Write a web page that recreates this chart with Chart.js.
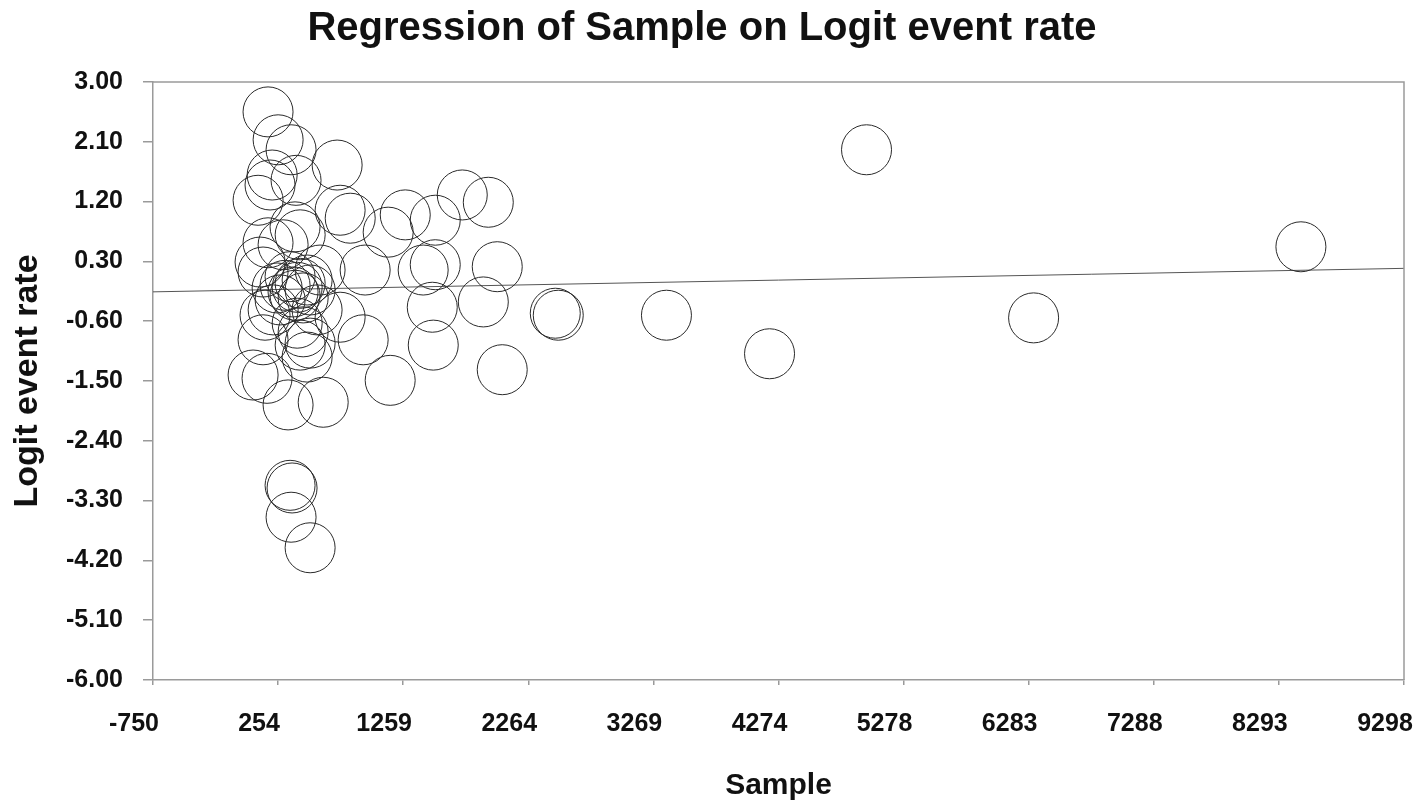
<!DOCTYPE html>
<html>
<head>
<meta charset="utf-8">
<title>Regression of Sample on Logit event rate</title>
<script src="https://cdn.jsdelivr.net/npm/chart.js@4/dist/chart.umd.min.js"></script>
<style>
  html, body { margin: 0; padding: 0; background: #ffffff; }
  #wrap { width: 1418px; height: 807px; position: relative; }
</style>
</head>
<body>
<div id="wrap"><canvas id="regressionChart"></canvas></div>
<script>
// Study sample sizes (x) and logit event rates (y)
var sampleSizes = [
  174, 255, 359, 729, 207, 190, 399, 94, 753, 834,
  1276, 1517, 1734, 1943, 1139, 391, 174, 432, 295, 134,
  351, 408, 432, 488, 375, 311, 110, 592, 954, 1420,
  1517, 2015, 247, 456, 134, 215, 408, 568, 753, 512,
  488, 938, 54, 166, 335, 617, 1155, 1493, 1903, 2481,
  2505, 1501, 2055, 351, 367, 359, 512, 3374, 4202, 4981,
  6323, 8470, 456, 150, 432, 391, 271, 512
];
var logitRates = [
  2.55, 2.13, 1.98, 1.75, 1.60, 1.45, 1.52, 1.22, 1.07, 0.95,
  1.00, 0.92, 1.30, 1.19, 0.74, 0.82, 0.58, 0.70, 0.55, 0.14,
  0.07, -0.09, -0.03, 0.02, -0.16, -0.06, 0.29, 0.17, 0.17, 0.17,
  0.25, 0.22, -0.10, -0.25, -0.88, -0.43, -0.63, -0.43, -0.54, -0.93,
  -1.14, -0.88, -1.41, -1.46, -1.86, -1.82, -1.49, -0.39, -0.31, -0.48,
  -0.51, -0.96, -1.33, -3.07, -3.11, -3.55, -4.01, -0.51, -1.09, 1.98,
  -0.55, 0.52, -0.76, -0.51, -0.96, -0.21, -0.28, -0.13
];

// Fitted regression line
var regIntercept = -0.132;
var regSlope = 0.0000352;

// Axis tick labels
var xTicks = [-750, 254, 1259, 2264, 3269, 4274, 5278, 6283, 7288, 8293, 9298];
var yTicks = [3.00, 2.10, 1.20, 0.30, -0.60, -1.50, -2.40, -3.30, -4.20, -5.10, -6.00];

var xMin = xTicks[0];
var xMax = xTicks[xTicks.length - 1];

var points = sampleSizes.map(function (s, i) {
  return { x: s, y: logitRates[i] };
});

var regLine = [
  { x: xMin, y: regIntercept + regSlope * xMin },
  { x: xMax, y: regIntercept + regSlope * xMax }
];

var axisGray = '#9a9a9a';
var tickFont = { family: 'Liberation Sans, Arial, sans-serif', size: 25, weight: 'bold' };

// no extra side padding from the edge labels
function noSidePadding(scale) {
  scale.paddingLeft = 0;
  scale.paddingRight = 0;
}

// draws the top and right edges of the plot box
var frameBox = {
  id: 'frameBox',
  afterDraw: function (chart) {
    var a = chart.chartArea;
    var c = chart.ctx;
    c.save();
    c.strokeStyle = axisGray;
    c.lineWidth = 1.5;
    c.beginPath();
    c.moveTo(a.left, a.top);
    c.lineTo(a.right, a.top);
    c.lineTo(a.right, a.bottom);
    c.stroke();
    c.restore();
  }
};

var ctx = document.getElementById('regressionChart').getContext('2d');
var chart = new Chart(ctx, {
  type: 'scatter',
  data: {
    datasets: [
      {
        label: 'Studies',
        data: points,
        pointRadius: 25,
        pointHoverRadius: 25,
        pointBorderWidth: 1,
        pointBorderColor: '#2a2a2a',
        pointBackgroundColor: 'rgba(0, 0, 0, 0)'
      },
      {
        label: 'Regression',
        type: 'line',
        data: regLine,
        borderColor: '#555555',
        borderWidth: 1,
        pointRadius: 0,
        fill: false
      }
    ]
  },
  options: {
    responsive: true,
    maintainAspectRatio: false,
    animation: false,
    layout: {
      autoPadding: false, // big markers would otherwise push the right edge in
      padding: { left: 0, right: 14, top: 0, bottom: 0 }
    },
    plugins: {
      legend: { display: false },
      tooltip: { enabled: false },
      title: {
        display: true,
        text: 'Regression of Sample on Logit event rate',
        color: '#111111',
        font: { family: 'Liberation Sans, Arial, sans-serif', size: 40, weight: 'bold' },
        padding: { top: 5, bottom: 29 }
      }
    },
    scales: {
      x: {
        type: 'linear',
        min: xMin,
        max: xMax,
        afterBuildTicks: function (scale) {
          scale.ticks = xTicks.map(function (v) { return { value: v }; });
        },
        afterFit: function (scale) {
          scale.height = 127;
          noSidePadding(scale);
        },
        ticks: {
          autoSkip: false,
          maxRotation: 0,
          padding: 24,
          labelOffset: -19,
          color: '#111111',
          font: tickFont,
          callback: function (value) {
            return String(value);
          }
        },
        grid: {
          drawOnChartArea: false,
          drawTicks: true,
          tickLength: 5,
          color: axisGray,
          lineWidth: 1.5
        },
        border: { display: true, color: axisGray, width: 1.5 },
        title: {
          display: true,
          text: 'Sample',
          color: '#111111',
          font: { family: 'Liberation Sans, Arial, sans-serif', size: 30, weight: 'bold' },
          padding: { top: 0, bottom: 3 }
        }
      },
      y: {
        type: 'linear',
        min: yTicks[yTicks.length - 1],
        max: yTicks[0],
        afterBuildTicks: function (scale) {
          scale.ticks = yTicks.map(function (v) { return { value: v }; });
        },
        afterFit: function (scale) {
          scale.width = 153;
        },
        ticks: {
          autoSkip: false,
          padding: 20,
          color: '#111111',
          font: tickFont,
          callback: function (value) {
            return Number(value).toFixed(2);
          }
        },
        grid: {
          drawOnChartArea: false,
          drawTicks: true,
          tickLength: 10,
          color: axisGray,
          lineWidth: 1.5
        },
        border: { display: true, color: axisGray, width: 1.5 },
        title: {
          display: true,
          text: 'Logit event rate',
          color: '#111111',
          font: { family: 'Liberation Sans, Arial, sans-serif', size: 34, weight: 'bold' },
          padding: { top: 7, bottom: 0 }
        }
      }
    }
  },
  plugins: [frameBox]
});
</script>
</body>
</html>
